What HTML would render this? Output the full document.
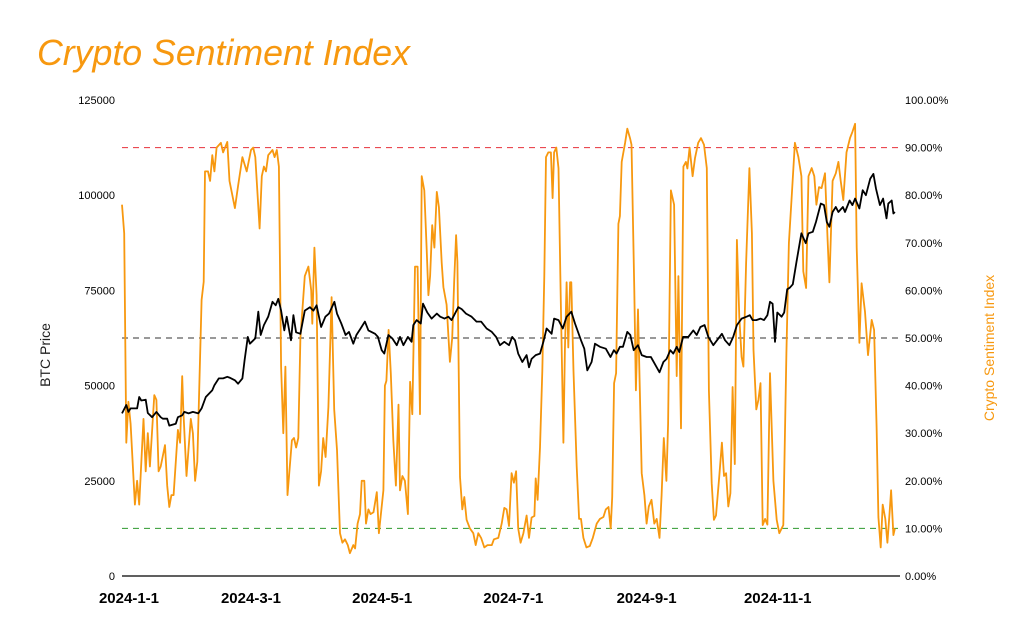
<!DOCTYPE html>
<html><head><meta charset="utf-8"><style>
html,body{margin:0;padding:0;background:#fff;}
svg{display:block;font-family:"Liberation Sans",sans-serif;}
</style></head><body>
<svg id="chart" width="1030" height="639" viewBox="0 0 1030 639" xmlns="http://www.w3.org/2000/svg">
<rect width="1030" height="639" fill="#fff"/>
<text x="37" y="65" font-size="35.7" font-style="italic" fill="#f7980f">Crypto Sentiment Index</text>
<text transform="translate(50,355) rotate(-90)" text-anchor="middle" font-size="14" fill="#222">BTC Price</text>
<text transform="translate(994,348) rotate(-90)" text-anchor="middle" font-size="14" fill="#f7980f">Crypto Sentiment Index</text>
<g id="grid"></g><g id="axes"></g><g id="series"></g>
</svg>
<script>
const priceTicks=[0,25000,50000,75000,100000,125000];
const sentTicks=[0,10,20,30,40,50,60,70,80,90,100];
const refLevels=[90,50,10];
const dateTickDays=[0,60,121,182,244,305];
const dateTickLabels=["2024-1-1","2024-3-1","2024-5-1","2024-7-1","2024-9-1","2024-11-1"];
const sentDays=[0,1,2,3,4,6,7,8,10,11,12,13,15,16,17,18,20,21,22,23,24,26,27,28,28.5,30,32,33,34,35,37,38,38.6,40,41,42,43,44,46,47,49,50,52.5,54,56,58,60,61,62,64,65,66,67,68,70,71,72,73,74,75,76,77,79,80,81,82,83,85,86.7,88,88.5,89.5,90.5,91.6,92.6,93.6,94.7,96,97.5,98.7,100,101.4,102.5,103.7,105,106,107.6,108.4,109.6,110.7,111.5,112.7,113.5,114.6,115.6,117,118.5,119.5,121.6,122.3,123,124,125,126.2,127.4,128.6,129.3,130.4,131.6,133,134,135,136.3,137.5,138.6,139.4,140.6,141.7,142.5,143.3,144.3,145.3,146.4,147.4,148.7,149.5,151,152.5,153.6,154.5,155.4,156,157.2,158.3,159.2,160.3,161.8,163.4,164.5,165.7,167,168.5,170,172,173,175,176.6,177.8,178.9,180,181.2,182.3,183.3,184.3,185.4,186.7,188.2,189.3,190.5,191.8,192.4,193.3,194.4,195.5,196.4,197.2,198.3,199.5,200.3,201,202,203,204,205.3,206,206.8,207.6,208.4,209,210,211.5,212.6,213.5,214.6,216,217.6,219,220.8,222.3,223.9,225,226.3,227.3,228,228.9,229.8,230.9,231.6,232.4,234,235,236.3,237,238.3,239,240,241.7,243,244,245,246.3,247.6,248.7,250,251,252,253.2,254,255.3,256.8,258,258.8,260,261.1,262.3,263,264,265.4,266.5,268,269.3,270.7,272,273,274.3,275.3,276.3,277.8,279,280,281,282,283,284,285,286,287.1,288.2,289,290.3,291.8,293,293.7,295,296,297,298,299.1,300.2,301.4,303,304.5,305.7,307.6,309,310.2,311.4,313,314.6,316,316.9,318.2,319.3,320.8,322,323,324.2,325.4,327,328.2,329,330.5,332,333.2,334.3,335.5,337,338.6,339.7,341,341.7,343,344,345.6,347,348.7,349.8,351,351.8,352.9,353.8,355,356,357,357.7,358.8,359.5];
const sentVals=[78,72,28,36.6,32,15,20,15,33,22,30,23,38,37,22,23,27.5,19,14.5,17,17,30.7,28,42,35,21,33,30,20,24,58,61.8,85,85,83,88.4,85,90,91,89,91.2,83,77.3,82,88,85,89.5,90,88,73,84,86,85,88.4,89.5,88,89.5,86,44,30,44,17,28.5,29,27,29,50,63,65,60,53,69,59,19,22,29,25,35.5,58.6,35,26.5,9,7,7.7,6.5,4.8,6.5,5.8,11,13,20,20,11,14,13,13.4,17.6,9,18,40,41,51.7,42.6,28.6,19,36,18,21,20,13,40.8,34,65,65,34,84,81,68.5,59,63,73.7,69,80.7,77.5,65.8,60.7,57,45,50,62,71.6,66,20.8,14,16.6,11.8,10,9,6.5,9,8,6,6.5,6.5,7.7,8,11,14.3,14,10.5,21.6,19.6,22,10,7,9,12.7,8,12.3,12.6,20.5,16,27,43,63,88,89,89,79.4,89,90,85.7,60,28,47.5,61.7,48,61.7,61.7,43,23,12,12,8,6,6.3,8,11,12,12.4,14,14.5,10,16.6,40.5,42.6,74,75.6,87,91,94,92,90.6,60,39,56,21.6,17,11,14.6,16,11,12,8,17,29,20,32,81,78,42,63,31,86,87,85.6,90,84,87.8,91,92,90.6,85.7,39,19.5,11.8,12.7,21,28,21,21.6,14.6,17.4,39.7,23.5,70.6,54.4,46,44,65.7,85.7,72,47.5,35,37,40.5,10.7,12,10.8,42.6,20,11.8,9,10.7,46.8,70,79,91,88,84,64,60.5,84,85.7,84,78,81.7,81.5,84.6,70.6,61.7,83,84.6,87,83,79,89,92,93.3,95,69,49,61.5,55.5,46.4,53.8,51.7,31.3,12.4,6,15,12,7,13,18,8.6,10];
const priceDays=[0,2,3,4,7,8,9,11,12,14,16,18,19,21,22,25,26,28,29,31,33,35.5,37,39,42,43,45,47,49,50,52.5,54,56,57,58.5,59.5,62,63.4,64.5,66,68,70,71.5,72.7,74,75.5,76.6,78.6,79.7,81,83,85,87.4,89,90.5,92.6,94.6,96.3,98.8,100,102,104,105.6,107.6,109,111,113,114.6,117.7,119,120.8,122,123.9,125.7,127.8,129.3,130.9,133,134.7,135.5,137,139,140,142,144,146.4,148,150,151.8,153.3,156.4,158,160,162.6,164.9,167,169.6,172,174,175.8,177.8,180,181.5,182.8,184.3,186.2,188.2,189.3,190.5,192.4,194.4,196,197.5,199.8,201,203,205,206.8,209,210.7,213.5,215,216.4,218.4,220,222.3,225,227.2,228.8,230,231.6,233,235,236.4,238,240,241.7,244,246,248.7,250,251.8,253.3,255,256.4,258,259.2,261,263.4,265.7,267.3,269,271,272.7,275,277.4,279,280.5,282.5,284.3,286,288.2,290.5,292,293.3,295,297,298.6,300.2,301.4,302.6,303.7,304.8,306.8,308,309.4,310.6,312,313.7,316,318,319.3,321.3,322.8,325,326.5,327.8,329,330.5,332,333.2,335.3,336.3,338.4,339.7,341,343,344.5,346,348,349.5,350.7,352.5,354,355.6,356.4,358,358.8,359.5];
const priceVals=[42700,44900,43100,44000,44000,47000,46100,46300,42800,41700,43100,41700,41300,41300,39500,40000,41700,42200,43100,42700,43100,42700,44000,47000,48800,50100,51900,51900,52300,52100,51400,50500,51900,56700,62800,61000,62400,69400,63300,65900,68100,72000,71100,72800,69700,64500,68100,61900,68500,64000,63600,69700,70600,69700,71100,65400,68100,68900,72000,68900,66300,63300,64100,61000,63300,65000,66800,64500,63600,62800,59300,58400,63300,62400,60600,62800,60600,62800,61500,65900,67200,66300,71500,69200,67600,68900,68100,67600,68100,67200,70600,70100,68900,68100,66800,66800,65000,64100,62800,60600,61500,60600,62800,61900,58400,56200,58000,54800,57000,58000,58400,61500,65000,63600,67600,67200,65000,68100,69400,66300,61900,59700,54000,56200,61000,60200,59700,57500,59300,58400,60200,60200,64100,63300,59300,60600,58000,57500,57500,54800,53500,56200,57000,59300,58400,60200,58800,62800,62800,64500,63300,65400,65900,62800,60600,62400,63600,61900,60600,62800,65900,67600,68100,68500,67200,67200,67600,67200,68500,72000,71500,61500,69200,68100,69200,75300,75700,76600,82500,90000,87400,90000,90400,93000,97800,97400,93000,91700,95600,96900,95600,96900,95600,98600,97400,99100,96500,101300,100000,104300,105600,101700,97400,99100,93900,97800,98600,95200,95600];

const NS='http://www.w3.org/2000/svg';
const X0=122,X1=900,Y0=576,Y1=100,PXDAY=2.15;
const xScale=d=>X0+d*PXDAY;
const yPrice=v=>Y0-(v/125000)*(Y0-Y1);
const ySent=v=>Y0-(v/100)*(Y0-Y1);
function mk(tag,attrs,parent){const e=document.createElementNS(NS,tag);for(const k in attrs)e.setAttribute(k,attrs[k]);parent.appendChild(e);return e;}
const grid=document.getElementById('grid'),axes=document.getElementById('axes'),series=document.getElementById('series');
const refColors={90:'#e8303a',50:'#333',10:'#2e9a2e'};
refLevels.forEach(l=>{
  const ln=mk('line',{x1:X0,x2:X1,y1:ySent(l),y2:ySent(l),stroke:refColors[l],'stroke-width':1,'stroke-dasharray':'6,5'},grid);
  
  
});
const ax=mk('line',{x1:X0,x2:X1,y1:Y0,y2:Y0,stroke:'#000','stroke-width':1.3},axes);


priceTicks.forEach(v=>{
  const t=mk('text',{x:115,y:yPrice(v)+4,'text-anchor':'end','font-size':11,fill:'#000'},axes);
  t.textContent=String(v);
  
  
});
sentTicks.forEach(v=>{
  const t=mk('text',{x:905,y:ySent(v)+4,'font-size':11,fill:'#000'},axes);
  t.textContent=v.toFixed(2)+'%';
  
  
});
dateTickDays.forEach((d,i)=>{
  const t=mk('text',{x:xScale(d)+(i===0?7:0),y:603,'text-anchor':'middle','font-size':15,'font-weight':'bold',fill:'#000'},axes);
  t.textContent=dateTickLabels[i];
  
  
});
const sp=mk('polyline',{points:sentDays.map((d,i)=>xScale(d).toFixed(1)+','+ySent(sentVals[i]).toFixed(1)).join(' '),fill:'none',stroke:'#f7980f','stroke-width':1.8,'stroke-linejoin':'round'},series);


const pp=mk('polyline',{points:priceDays.map((d,i)=>xScale(d).toFixed(1)+','+yPrice(priceVals[i]).toFixed(1)).join(' '),fill:'none',stroke:'#000','stroke-width':1.8,'stroke-linejoin':'round'},series);


</script>
</body></html>
